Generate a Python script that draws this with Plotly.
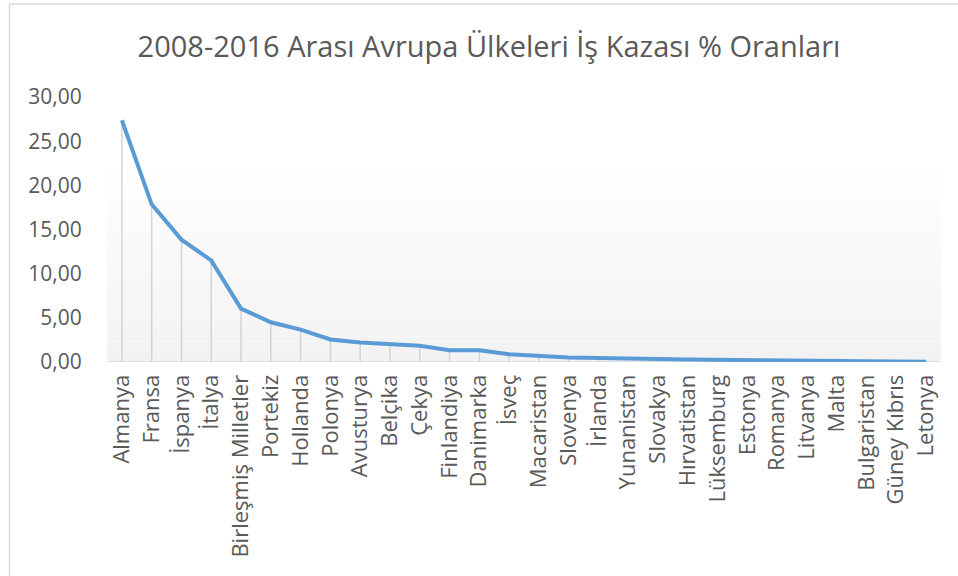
import plotly.graph_objects as go

countries = ["Almanya", "Fransa", "İspanya", "İtalya", "Birleşmiş Milletler", "Portekiz",
             "Hollanda", "Polonya", "Avusturya", "Belçika", "Çekya", "Finlandiya",
             "Danimarka", "İsveç", "Macaristan", "Slovenya", "İrlanda", "Yunanistan",
             "Slovakya", "Hırvatistan", "Lüksemburg", "Estonya", "Romanya", "Litvanya",
             "Malta", "Bulgaristan", "Güney Kıbrıs", "Letonya"]
values = [27.37, 17.85, 13.85, 11.50, 6.05, 4.50, 3.67, 2.55, 2.20, 2.04, 1.85, 1.32,
          1.32, 0.87, 0.68, 0.50, 0.45, 0.45, 0.35, 0.28, 0.23, 0.20, 0.15, 0.12,
          0.10, 0.08, 0.05, 0.03]
y_ticks = [0, 5, 10, 15, 20, 25, 30]
y_tick_labels = ["0,00", "5,00", "10,00", "15,00", "20,00", "25,00", "30,00"]
title = "2008-2016 Arası Avrupa Ülkeleri İş Kazası % Oranları"

idx = list(range(len(countries)))

# drop lines built from data
dx, dy = [], []
for i, v in zip(idx, values):
    dx += [i, i, None]
    dy += [0, v, None]

fig = go.Figure()
fig.add_trace(go.Scatter(x=dx, y=dy, mode="lines",
                         line=dict(color="#d4d4d4", width=1.5),
                         hoverinfo="skip", showlegend=False))
fig.add_trace(go.Scatter(x=idx, y=values, mode="lines",
                         line=dict(color="#5b9bd5", width=4),
                         showlegend=False))

W, H = 958, 576
L, R, T, B = 107, 17, 97, 214
pw, ph = W - L - R, H - T - B

def px(xp):
    return (xp - L) / pw

def py(yp):
    return (H - B - yp) / ph

shapes = []
# gradient plot-area background (white -> light gray)
top_px, bot_px = 160, 362
n = 40
for k in range(n):
    y0 = top_px + (bot_px - top_px) * k / n
    y1 = top_px + (bot_px - top_px) * (k + 1) / n
    t = (k + 0.5) / n
    c = int(round(255 - (255 - 242) * t))
    shapes.append(dict(type="rect", xref="paper", yref="paper",
                       x0=0, x1=px(941), y0=py(y1), y1=py(y0),
                       fillcolor=f"rgb({c},{c},{c})", line=dict(width=0),
                       layer="below"))
# x-axis baseline
shapes.append(dict(type="line", xref="paper", yref="y", x0=0, x1=px(941), y0=0, y1=0,
                   line=dict(color="#d9d9d9", width=1.5), layer="below"))
# chart border
shapes.append(dict(type="line", xref="paper", yref="paper", x0=px(9.5), x1=px(9.5),
                   y0=py(4), y1=py(600), line=dict(color="#d9d9d9", width=1.5)))
shapes.append(dict(type="line", xref="paper", yref="paper", x0=px(9.5), x1=px(970),
                   y0=py(4), y1=py(4), line=dict(color="#d9d9d9", width=1.5)))

fig.update_layout(
    width=W, height=H,
    margin=dict(l=L, r=R, t=T, b=B),
    paper_bgcolor="white", plot_bgcolor="rgba(0,0,0,0)",
    title=dict(text=title, x=489 / W, xanchor="center", y=1 - 47 / H, yanchor="middle",
               font=dict(family="Open Sans", size=29, color="#595959")),
    shapes=shapes,
    xaxis=dict(tickmode="array", tickvals=idx, ticktext=countries, range=[-0.5, 27.5],
               tickangle=-90, showgrid=False, zeroline=False, showline=False,
               ticks="outside", ticklen=3, tickcolor="rgba(0,0,0,0)",
               tickfont=dict(family="Open Sans", size=22, color="#595959")),
    yaxis=dict(tickmode="array", tickvals=y_ticks, ticktext=y_tick_labels, range=[0, 30],
               showgrid=False, zeroline=False, showline=False,
               ticks="outside", ticklen=20, tickcolor="rgba(0,0,0,0)",
               tickfont=dict(family="Open Sans", size=21, color="#595959")),
)

fig.write_html("out.html", config={"displayModeBar": False},
               post_script="document.body.style.margin='0';")
